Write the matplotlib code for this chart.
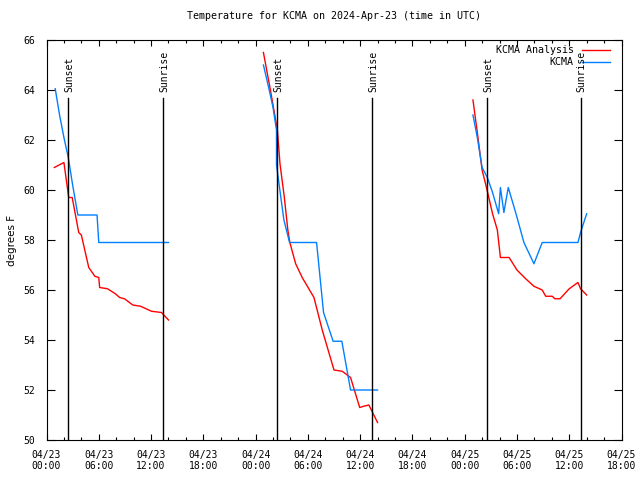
import matplotlib
matplotlib.use("Agg")
import matplotlib.pyplot as plt
from matplotlib.ticker import MultipleLocator, FixedLocator

# time axis in hours since 2024-04-23 00:00 UTC
X_MIN, X_MAX = 0, 66
TICK_HOURS = list(range(0, 67, 6))
TICK_LABELS = [
    "04/23\n00:00", "04/23\n06:00", "04/23\n12:00", "04/23\n18:00",
    "04/24\n00:00", "04/24\n06:00", "04/24\n12:00", "04/24\n18:00",
    "04/25\n00:00", "04/25\n06:00", "04/25\n12:00", "04/25\n18:00",
]

SUNSET_HOURS = [2.5, 26.5, 50.6]
SUNRISE_HOURS = [13.4, 37.4, 61.3]

# KCMA observations (three evening/night windows)
obs_hours = [
    [1.0, 1.5, 2.0, 2.5, 3.0, 3.6, 5.8, 6.0, 14.0],
    [24.9, 25.5, 26.0, 26.4, 26.4, 26.9, 27.25, 27.9, 31.0, 31.8, 32.9,
     33.9, 34.9, 38.0],
    [48.95, 49.45, 50.0, 50.6, 51.2, 51.9, 52.1, 52.5, 53.0, 53.85, 54.8,
     55.95, 56.9, 61.0, 61.3, 62.0],
]
obs_temp = [
    [64.05, 63.0, 62.1, 61.3, 60.2, 59.0, 59.0, 57.9, 57.9],
    [65.0, 64.1, 63.3, 62.4, 61.0, 59.7, 58.8, 57.9, 57.9, 55.1, 53.95,
     53.95, 52.0, 52.0],
    [63.0, 62.1, 60.9, 60.5, 59.9, 59.05, 60.1, 59.1, 60.1, 59.1, 57.9,
     57.05, 57.9, 57.9, 58.3, 59.05],
]

# KCMA analysis
ana_hours = [
    [0.9, 2.0, 2.55, 2.95, 3.7, 4.0, 4.85, 5.55, 6.0, 6.1, 7.0, 7.9, 8.4,
     8.95, 9.9, 10.8, 12.05, 13.2, 14.0],
    [24.9, 25.7, 26.5, 26.8, 27.3, 27.7, 27.93, 28.6, 29.35, 30.7, 31.65,
     33.0, 33.95, 34.9, 35.95, 36.4, 37.0, 38.0],
    [48.95, 49.45, 50.0, 50.5, 51.2, 51.75, 52.1, 53.1, 54.0, 55.0, 55.95,
     56.9, 57.3, 58.05, 58.35, 58.95, 60.0, 61.0, 61.3, 62.0],
]
ana_temp = [
    [60.9, 61.1, 59.7, 59.7, 58.3, 58.2, 56.9, 56.55, 56.5, 56.1, 56.05,
     55.85, 55.7, 55.65, 55.4, 55.35, 55.15, 55.1, 54.8],
    [65.5, 64.0, 62.4, 61.05, 59.7, 58.4, 57.9, 57.05, 56.5, 55.7, 54.4,
     52.8, 52.75, 52.5, 51.3, 51.35, 51.4, 50.7],
    [63.6, 62.3, 60.8, 60.1, 59.05, 58.4, 57.3, 57.3, 56.8, 56.45, 56.15,
     56.0, 55.75, 55.75, 55.65, 55.65, 56.05, 56.3, 56.05, 55.8],
]

RED = "#ff0000"
BLUE = "#0080ff"
MONO = "DejaVu Sans Mono"

plt.rcParams["font.family"] = MONO
plt.rcParams["font.size"] = 7

fig = plt.figure(figsize=(6.4, 4.8), dpi=100)
ax = fig.add_axes([46.5 / 640, 40 / 480, 575 / 640, 400 / 480])

for hrs, vals in zip(ana_hours, ana_temp):
    ax.plot(hrs, vals, color=RED, lw=1)
for hrs, vals in zip(obs_hours, obs_temp):
    ax.plot(hrs, vals, color=BLUE, lw=1)

for h in SUNSET_HOURS:
    ax.plot([h, h], [50, 63.67], color="black", lw=1)
    ax.text(h + 0.15, 63.9, "Sunset", rotation=90, ha="center", va="bottom")
for h in SUNRISE_HOURS:
    ax.plot([h, h], [50, 63.67], color="black", lw=1)
    ax.text(h + 0.15, 63.9, "Sunrise", rotation=90, ha="center", va="bottom")

ax.set_xlim(X_MIN, X_MAX)
ax.set_ylim(50, 66)
ax.xaxis.set_major_locator(FixedLocator(TICK_HOURS))
ax.set_xticklabels(TICK_LABELS)
ax.xaxis.set_minor_locator(MultipleLocator(2))
ax.yaxis.set_major_locator(MultipleLocator(2))
ax.tick_params(which="both", direction="in", top=True, right=True, width=0.8)
ax.tick_params(which="major", length=4, pad=7)
ax.tick_params(axis="y", which="major", length=6, pad=8)
ax.tick_params(which="minor", length=2)
for sp in ax.spines.values():
    sp.set_linewidth(0.8)

ax.set_ylabel("degrees F", labelpad=5, family="DejaVu Sans", fontsize=7.5)
ax.set_title("Temperature for KCMA on 2024-Apr-23 (time in UTC)",
             pad=15, fontsize=7.2)

# legend: right-aligned text with sample line to its right
legend_rows = [("KCMA Analysis", RED, 0.975), ("KCMA", BLUE, 0.945)]
for label, color, yy in legend_rows:
    ax.text(0.917, yy, label, transform=ax.transAxes, ha="right", va="center",
            fontsize=7.2)
    ax.plot([0.931, 0.98], [yy, yy], transform=ax.transAxes, color=color, lw=1)

fig.savefig("out.png", dpi=100)
